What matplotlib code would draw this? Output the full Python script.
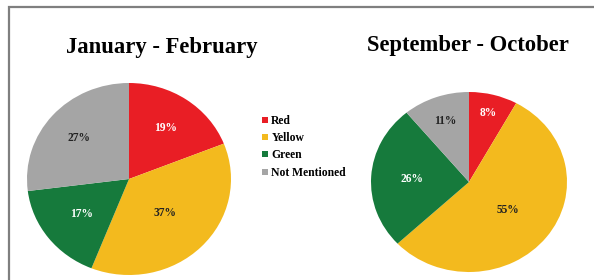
import numpy as np
import matplotlib.pyplot as plt
from matplotlib.patches import Rectangle
from matplotlib.lines import Line2D

categories = ['Red', 'Yellow', 'Green', 'Not Mentioned']
colors = ['#E91E25', '#F3BA1E', '#167A3C', '#A5A5A5']
text_colors = ['white', '#222222', 'white', '#222222']

jan_feb = [19, 37, 17, 27]
sep_oct = [8, 55, 26, 11]

plt.rcParams['font.family'] = ['Liberation Serif', 'DejaVu Serif']
plt.rcParams['font.weight'] = 'bold'

W, H = 594, 280
fig = plt.figure(figsize=(W / 100, H / 100), dpi=100)


def px_axes(cx, cy, rx, ry):
    # axes box in pixel coords (y from top) -> figure fraction
    return fig.add_axes([(cx - rx) / W, (H - cy - ry) / H, 2 * rx / W, 2 * ry / H])


def draw_pie(ax, values, label_dist):
    wedges, texts, autotexts = ax.pie(values, colors=colors, startangle=90, counterclock=False,
                                      autopct='%d%%', pctdistance=0.6,
                                      wedgeprops=dict(linewidth=0))
    for w, t, c, d in zip(wedges, autotexts, text_colors, label_dist):
        # excel-like label placement, distance per slice
        a = np.deg2rad((w.theta1 + w.theta2) / 2)
        t.set_position((d * np.cos(a), d * np.sin(a)))
        t.set_color(c)
        t.set_fontsize(8.3)
        t.set_fontweight('bold')
    ax.set_aspect('auto')
    ax.set_xlim(-1, 1)
    ax.set_ylim(-1, 1)
    ax.axis('off')
    return wedges


ax1 = px_axes(129, 179, 102, 96)
draw_pie(ax1, jan_feb, [0.645, 0.5, 0.59, 0.65])
ax2 = px_axes(469, 182, 98, 90)
draw_pie(ax2, sep_oct, [0.79, 0.5, 0.58, 0.72])

fig.text(162 / W, 1 - 47 / H, 'January - February', ha='center', va='center',
         fontsize=16.3, fontweight='bold')
fig.text(468 / W, 1 - 45 / H, 'September - October', ha='center', va='center',
         fontsize=16.3, fontweight='bold')

handles = [Line2D([], [], linestyle='none', marker='s', markersize=4.5,
                  markerfacecolor=c, markeredgewidth=0) for c in colors]
fig.legend(handles, categories, loc='upper left', bbox_to_anchor=(262 / W, 1 - 115 / H),
           frameon=False, fontsize=8.4, handlelength=0.5, handletextpad=0.3,
           labelspacing=0.45, borderpad=0, borderaxespad=0)

fig.patches.append(Rectangle((9 / W, -0.1), 1.2, 0.1 + (H - 7) / H, transform=fig.transFigure,
                             fill=False, edgecolor='#7F7F7F', linewidth=1.6))

fig.savefig('out.png', dpi=100)
